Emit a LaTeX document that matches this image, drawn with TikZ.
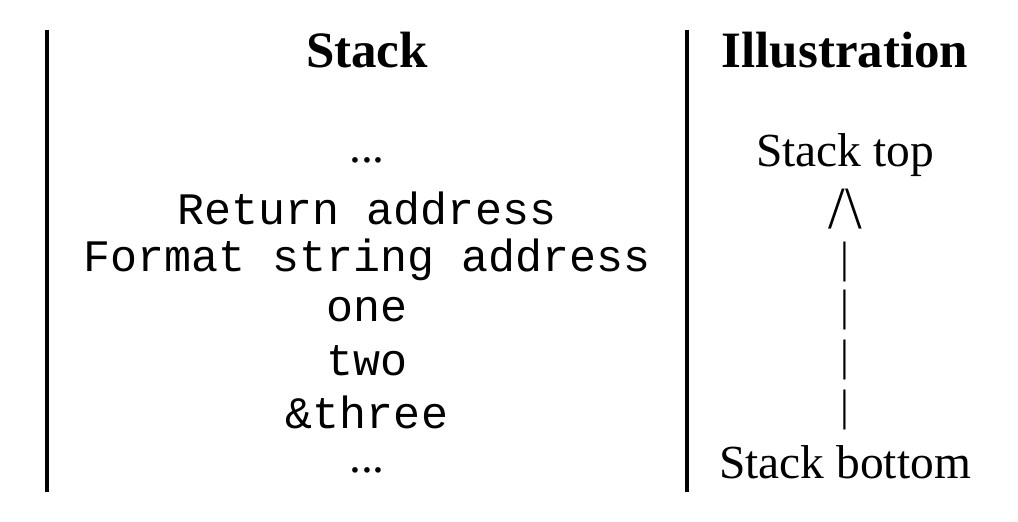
\documentclass[tikz,border=0pt]{standalone}
\usepackage{fontspec}
\setmainfont{Liberation Serif}
\setmonofont{Liberation Mono}
\usetikzlibrary{positioning}

\begin{document}
\begin{tikzpicture}
			[
				x=0.01cm, y=-0.01cm,
				head/.style={font=\fontsize{14.5}{17}\selectfont\bfseries},
				cell/.style={font=\fontsize{12.8}{15}\selectfont\ttfamily},
				ill/.style={font=\fontsize{13.5}{16}\selectfont},
				bar/.style={font=\fontsize{12.5}{15}\selectfont, inner sep=0pt},
				rule/.style={line width=1.2pt}
			]
			\useasboundingbox (0,0) rectangle (1018,521);

			% column rules
			\coordinate (r1t) at (47,30);
			\coordinate (r1b) at (47,492);
			\coordinate (r2t) at (687,30);
			\coordinate (r2b) at (687,492);
			\draw[rule] (r1t) -- (r1b);
			\draw[rule] (r2t) -- (r2b);

			% headers
			\node[head] (hstack) at (367,50) {Stack};
			\node[head] (hill) at (845,50) {Illustration};

			% stack cells
			\node[ill] (c0) at (367,160) {...};
			\node[cell] (c1) at (367,208) {Return address};
			\node[cell] (c2) at (367,260) {Format string address};
			\node[cell] (c3) at (367,310) {one};
			\node[cell] (c4) at (367,361) {two};
			\node[cell] (c5) at (367,412) {\&three};
			\node[ill, inner sep=0pt] (c6) at (367,470) {...};

			% illustration
			\node[ill] (top) at (845,155) {Stack top};
			\node[font=\fontsize{17}{20}\selectfont, inner sep=0pt] (tip) at (845,209) {/\textbackslash};
			\foreach \i/\y in {1/262,2/310,3/360,4/410}
			\node[bar] (bar\i) at (845,\y) {|};
			\node[ill] (bottom) at (845,462) {Stack bottom};

		\end{tikzpicture}
\end{document}
